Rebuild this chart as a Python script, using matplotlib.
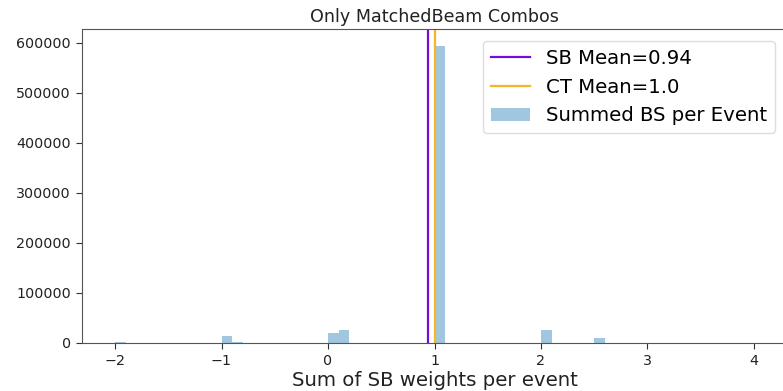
import numpy as np
import matplotlib
matplotlib.use("Agg")
import matplotlib.pyplot as plt

# Histogram of summed SB weights per event (bin width 0.1)
bin_left_edges = [-2.0, -1.0, -0.9, 0.0, 0.1, 1.0, 2.0, 2.5]
bin_counts = [1500, 14000, 2500, 21000, 26000, 595000, 26000, 11000]
bin_width = 0.1
x_range = (-2.0, 4.0)

sb_mean = 0.94
ct_mean = 1.0

edges = np.round(np.arange(x_range[0], x_range[1] + bin_width / 2, bin_width), 6)
centers = np.array(bin_left_edges) + bin_width / 2

fig = plt.figure(figsize=(7.83, 3.91), dpi=100)
ax = fig.add_axes([82 / 783, 48 / 391, 705 / 783, 314 / 391])

ax.axvline(sb_mean, color="#7010d8", lw=1.6, label=f"SB Mean={sb_mean}")
ax.axvline(ct_mean, color="#f3b52a", lw=1.6, label=f"CT Mean={ct_mean}")
ax.hist(centers, bins=edges, weights=bin_counts, color="#1f77b4", alpha=0.42,
        label="Summed BS per Event")

ax.set_xlim(-2.31, 4.31)
ax.set_ylim(0, 628000)
ax.set_xticks([-2, -1, 0, 1, 2, 3, 4])
ax.set_yticks(np.arange(0, 600001, 100000))
ax.tick_params(labelsize=10.3, colors="#333333", labelcolor="#222222", length=4.5)
for s in ax.spines.values():
    s.set_color("#555555")

ax.set_title("Only MatchedBeam Combos", fontsize=12.6, color="#222222", pad=5)
ax.set_xlabel("Sum of SB weights per event", fontsize=14.2, color="#222222", labelpad=2)
ax.legend(loc="upper right", fontsize=14.2, framealpha=1, edgecolor="#dddddd",
          borderaxespad=0.6)

fig.savefig("out.png", dpi=100)
